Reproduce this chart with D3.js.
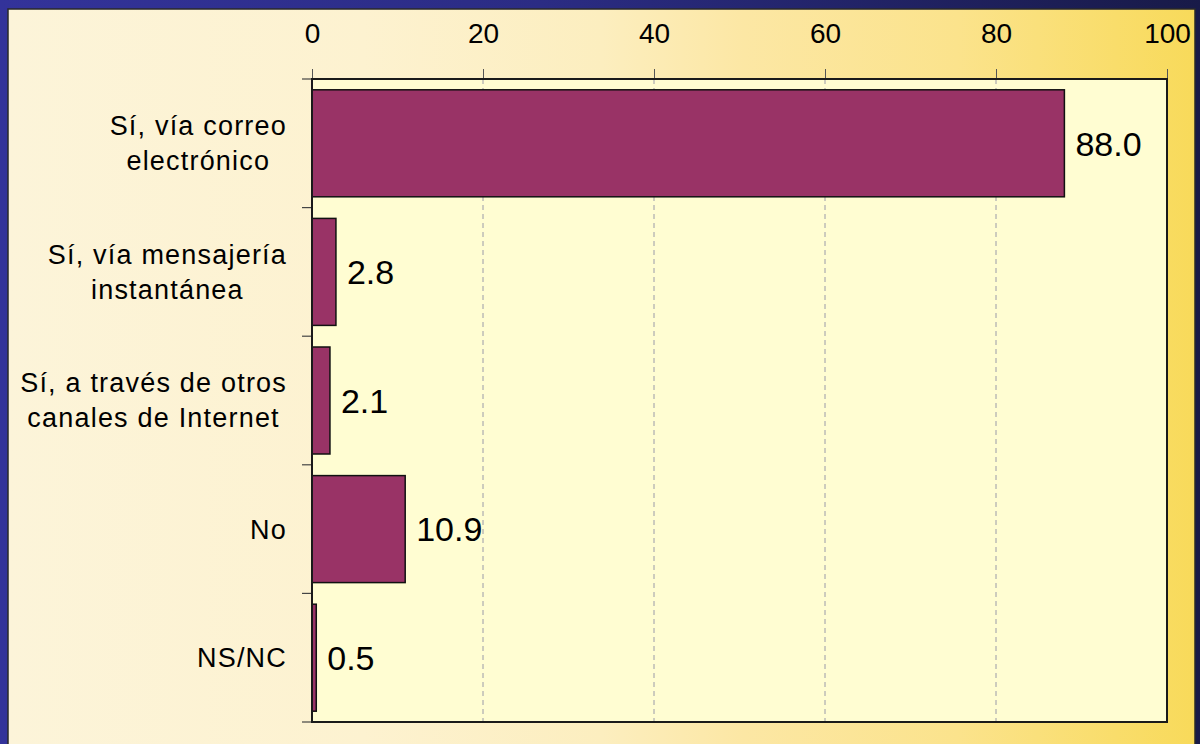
<!DOCTYPE html>
<html><head><meta charset="utf-8">
<script src="https://cdn.jsdelivr.net/npm/d3@7"></script>
<style>html,body{margin:0;padding:0;background:#fff}svg{display:block}</style>
</head><body>
<script>
const categories = [["Sí, vía correo","electrónico"],["Sí, vía mensajería","instantánea"],["Sí, a través de otros","canales de Internet"],["No"],["NS/NC"]];
const values = [88.0, 2.8, 2.1, 10.9, 0.5];
const valueLabels = ["88.0","2.8","2.1","10.9","0.5"];
const xTicks = [0,20,40,60,80,100];

const W=1200,H=744;
const svg=d3.select("body").append("svg").attr("width",W).attr("height",H);
const defs=svg.append("defs");
const gFrame=defs.append("linearGradient").attr("id","frame").attr("x1","0").attr("x2","1");
gFrame.append("stop").attr("offset","0").attr("stop-color","#33339a");
gFrame.append("stop").attr("offset","0.45").attr("stop-color","#2b2c84");
gFrame.append("stop").attr("offset","1").attr("stop-color","#181a48");
const gBg=defs.append("linearGradient").attr("id","bg").attr("x1","0").attr("x2","1");
[["0","#fcf4d9"],["0.3","#fdf2d0"],["0.5","#fceebf"],["0.62","#fce7a4"],["0.8","#fbe38c"],["1","#f8da5a"]].forEach(s=>gBg.append("stop").attr("offset",s[0]).attr("stop-color",s[1]));

svg.append("rect").attr("width",W).attr("height",H).attr("fill","url(#frame)");
svg.append("rect").attr("x",8).attr("y",9).attr("width",1187).attr("height",H).attr("fill","url(#bg)").attr("stroke","#2a2a2a").attr("stroke-width",1.5);

const L=312,R=1167,T=79,B=722;
const x=d3.scaleLinear().domain([0,100]).range([L,R]);
const y=d3.scaleBand().domain(d3.range(categories.length)).range([T,B]).paddingInner(0.168).paddingOuter(0.084);
const step=(B-T)/categories.length;

svg.append("rect").attr("x",L).attr("y",T).attr("width",R-L).attr("height",B-T).attr("fill","#fffdd2");

// gridlines
svg.append("g").selectAll("line").data(xTicks.filter(d=>d>0&&d<100)).join("line")
  .attr("x1",d=>x(d)).attr("x2",d=>x(d)).attr("y1",T).attr("y2",B)
  .attr("stroke","#9a9aa8").attr("stroke-width",1).attr("stroke-dasharray","5,4");

// top axis
const ax=svg.append("g").attr("transform",`translate(0,${T})`)
  .call(d3.axisTop(x).tickValues(xTicks).tickSize(10).tickPadding(0).tickFormat(d3.format("d")));
ax.select(".domain").remove();
ax.selectAll(".tick line").attr("stroke","#555");
ax.selectAll(".tick text").attr("y",-36).attr("dy",0).attr("font-family","Liberation Sans, Arial, sans-serif").attr("font-size",28).attr("fill","#000");

// category ticks at boundaries
svg.append("g").selectAll("line").data(d3.range(categories.length+1)).join("line")
  .attr("x1",L-10).attr("x2",L).attr("y1",d=>T+d*step).attr("y2",d=>T+d*step)
  .attr("stroke","#444").attr("stroke-width",1.2);

// bars
svg.append("g").selectAll("rect").data(values).join("rect")
  .attr("x",x(0)).attr("y",(d,i)=>y(i)).attr("width",d=>x(d)-x(0)).attr("height",y.bandwidth())
  .attr("fill","#993366").attr("stroke","#111").attr("stroke-width",1.5);

// value labels
svg.append("g").selectAll("text").data(values).join("text")
  .attr("x",d=>x(d)+11).attr("y",(d,i)=>y(i)+y.bandwidth()/2).attr("dy","0.36em")
  .attr("font-family","Liberation Sans, Arial, sans-serif").attr("font-size",34).attr("fill","#000")
  .text((d,i)=>valueLabels[i]);

// plot border
svg.append("rect").attr("x",L).attr("y",T).attr("width",R-L).attr("height",B-T).attr("fill","none").attr("stroke","#1a1a1a").attr("stroke-width",2);

// category labels (centered block, right-aligned)
const rightEdge=287, lineH=35;
categories.forEach((lines,i)=>{
  const cy=T+(i+0.5)*step;
  const g=svg.append("g");
  const texts=lines.map((t,j)=>g.append("text").text(t)
    .attr("font-family","Liberation Sans, Arial, sans-serif").attr("font-size",27).attr("letter-spacing","1.2px")
    .attr("fill","#000").attr("text-anchor","middle")
    .attr("y",cy+(j-(lines.length-1)/2)*lineH).attr("dy","0.35em"));
  const maxW=d3.max(texts,t=>t.node().getComputedTextLength());
  texts.forEach(t=>t.attr("x",rightEdge-maxW/2));
});
</script>
</body></html>
